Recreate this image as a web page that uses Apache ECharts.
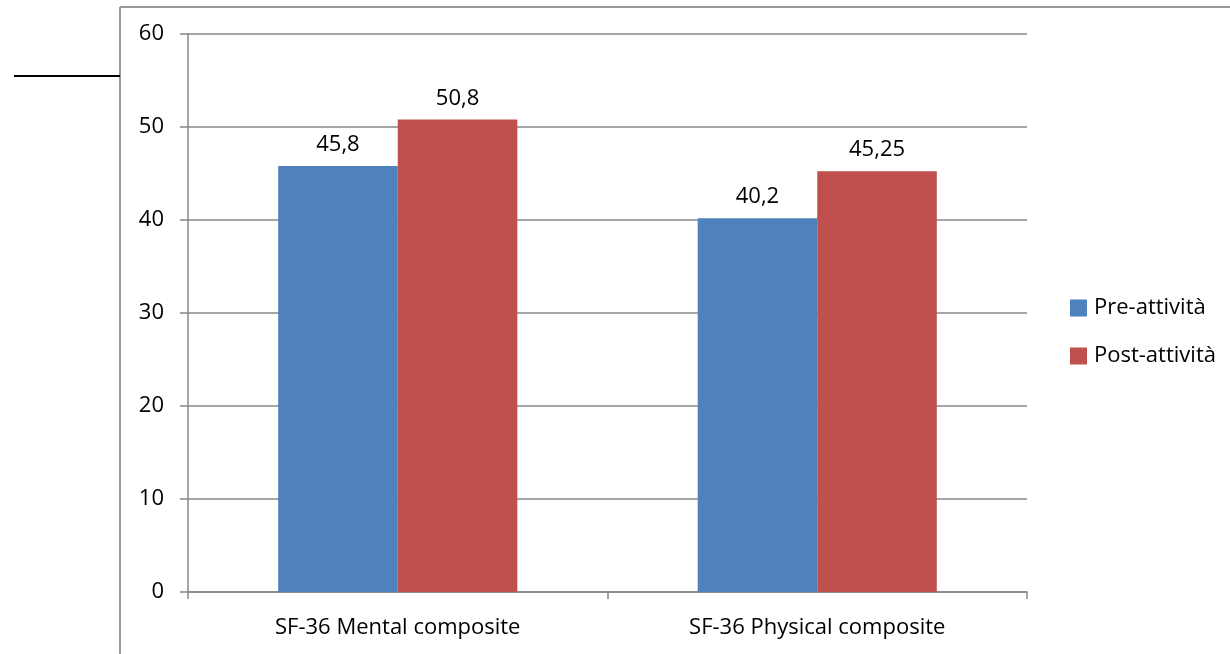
<!DOCTYPE html>
<html>
<head>
<meta charset="utf-8">
<script src="https://cdn.jsdelivr.net/npm/echarts@6/dist/echarts.min.js"></script>
<style>
  html, body { margin: 0; padding: 0; background: #fff; }
  #chart { width: 1230px; height: 654px; }
</style>
</head>
<body>
<div id="chart"></div>
<script>
// SF-36 composite scores before and after the activity
const categories = ['SF-36 Mental composite', 'SF-36 Physical composite'];
const seriesNames = ['Pre-attività', 'Post-attività'];
const preValues = [45.8, 40.2];
const postValues = [50.8, 45.25];
const yTicks = [0, 10, 20, 30, 40, 50, 60];

const FONT = '"Open Sans", "Noto Sans", sans-serif';
const FONT_SIZE = 22;
const AXIS_GRAY = '#888888';

const fmt = v => String(v).replace('.', ',');

const chart = echarts.init(document.getElementById('chart'), null, { renderer: 'canvas' });

chart.setOption({
  animation: false,
  textStyle: { fontFamily: FONT },
  grid: { left: 188, right: 203, top: 34, bottom: 62, containLabel: false },
  legend: {
    orient: 'vertical',
    left: 1065,
    top: 292,
    itemWidth: 17,
    itemHeight: 17,
    itemGap: 26,
    icon: 'rect',
    textStyle: { fontFamily: FONT, fontSize: FONT_SIZE, color: '#000', padding: [0, 0, 0, 2] },
    data: seriesNames
  },
  xAxis: {
    type: 'category',
    data: categories,
    axisLine: { lineStyle: { color: AXIS_GRAY, width: 1.5 } },
    axisTick: { show: true, length: 7, lineStyle: { color: AXIS_GRAY, width: 1.5 } },
    axisLabel: { fontFamily: FONT, fontSize: FONT_SIZE, color: '#000', margin: 25 }
  },
  yAxis: {
    type: 'value',
    min: yTicks[0],
    max: yTicks[yTicks.length - 1],
    interval: yTicks[1] - yTicks[0],
    axisLine: { show: true, lineStyle: { color: AXIS_GRAY, width: 1.5 } },
    axisTick: { show: true, length: 8, lineStyle: { color: AXIS_GRAY, width: 1.5 } },
    axisLabel: { fontFamily: FONT, fontSize: FONT_SIZE, color: '#000', margin: 24 },
    splitLine: { show: true, lineStyle: { color: AXIS_GRAY, width: 1.5 } }
  },
  series: [
    {
      name: seriesNames[0],
      type: 'bar',
      data: preValues,
      barGap: '0%',
      barCategoryGap: '43%',
      itemStyle: { color: '#4F81BD' },
      label: { show: true, position: 'top', distance: 10, fontFamily: FONT, fontSize: FONT_SIZE, color: '#000', formatter: p => fmt(p.value) }
    },
    {
      name: seriesNames[1],
      type: 'bar',
      data: postValues,
      barGap: '0%',
      barCategoryGap: '43%',
      itemStyle: { color: '#C0504D' },
      label: { show: true, position: 'top', distance: 10, fontFamily: FONT, fontSize: FONT_SIZE, color: '#000', formatter: p => fmt(p.value) }
    }
  ],
  graphic: [
    // surrounding frame of the figure
    { type: 'line', shape: { x1: 120, y1: 7, x2: 1230, y2: 7 }, style: { stroke: '#999', lineWidth: 2 } },
    { type: 'line', shape: { x1: 120, y1: 7, x2: 120, y2: 654 }, style: { stroke: '#999', lineWidth: 2 } },
    { type: 'line', shape: { x1: 14, y1: 76, x2: 120, y2: 76 }, style: { stroke: '#000', lineWidth: 2 } }
  ]
});
</script>
</body>
</html>
